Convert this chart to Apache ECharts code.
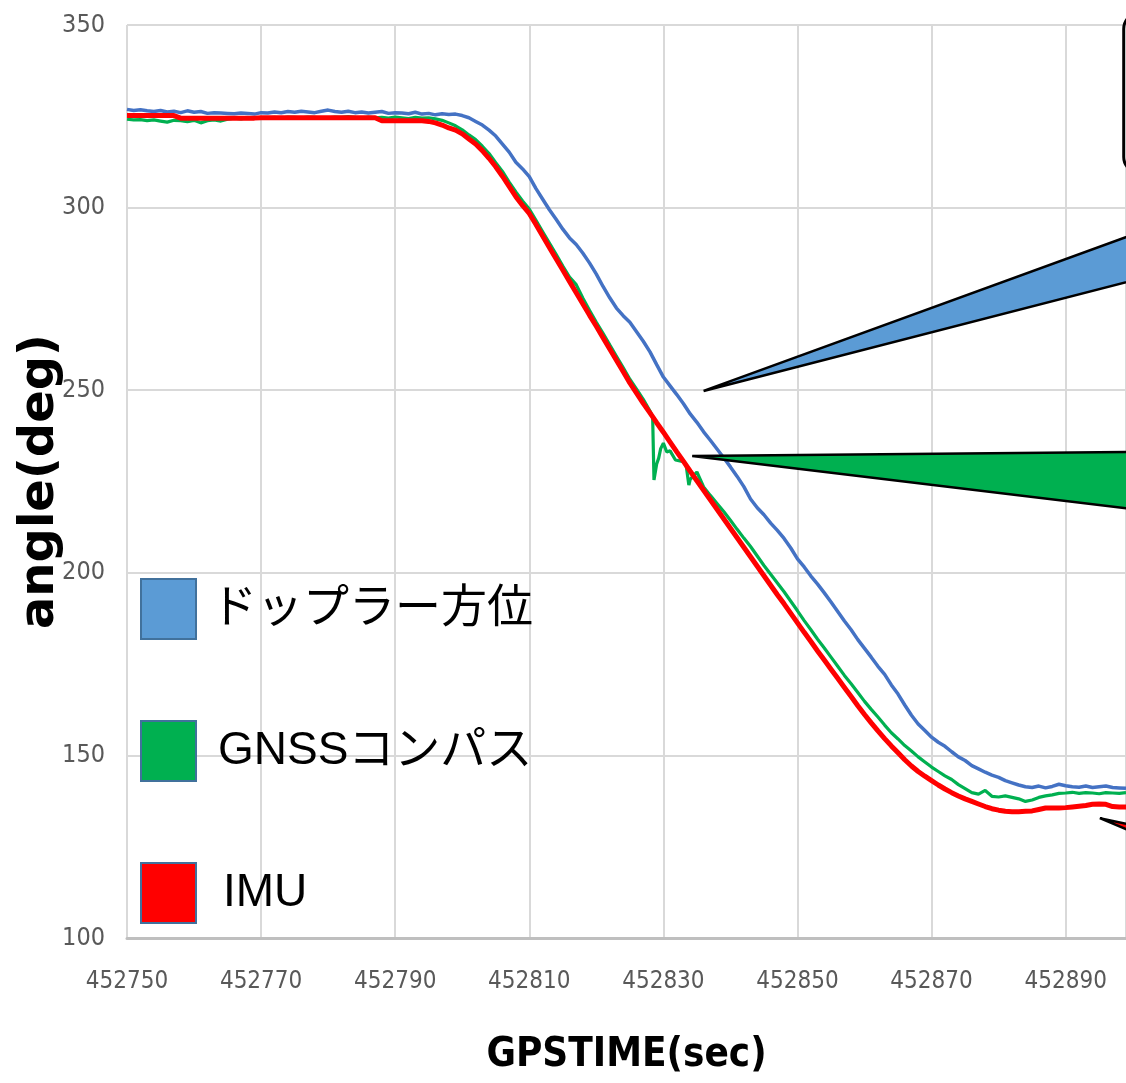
<!DOCTYPE html>
<html>
<head>
<meta charset="utf-8">
<script src="https://cdn.jsdelivr.net/npm/echarts@6/dist/echarts.min.js"></script>
<style>
html,body{margin:0;padding:0;background:#fff;}
#chart{width:1126px;height:1083px;}
</style>
</head>
<body>
<div id="chart"></div>
<script>
// ---- data ----
const T0 = 452750; // first sample time, one sample per second
const xTicks = [452750, 452770, 452790, 452810, 452830, 452850, 452870, 452890];
const yTicks = [100, 150, 200, 250, 300, 350];
const seriesNames = ['ドップラー方位', 'GNSSコンパス', 'IMU'];

const dopplerDeg = [
  326.9,326.6,326.8,326.5,326.3,326.6,326.2,326.4,326.0,326.5,
  326.1,326.3,325.8,326.0,325.9,325.8,325.7,325.9,325.8,325.6,
  326.0,325.9,326.2,326.0,326.3,326.1,326.4,326.2,326.0,326.4,
  326.7,326.3,326.1,326.4,326.0,326.2,325.9,326.1,326.3,325.8,
  326.0,325.9,325.7,326.1,325.6,325.8,325.4,325.7,325.5,325.6,
  325.2,324.6,323.6,322.6,321.2,319.6,317.4,315.2,312.4,310.6,
  308.5,305.2,302.3,299.4,296.8,294.1,291.7,289.9,287.5,284.8,
  281.8,278.4,275.3,272.5,270.4,268.6,266.0,263.4,260.5,257.0,
  253.6,251.2,248.8,246.3,243.5,241.2,238.6,236.3,233.9,231.5,
  229.0,226.4,223.6,220.2,217.8,215.9,213.6,211.6,209.4,206.8,
  203.8,201.6,199.1,196.9,194.5,192.0,189.4,186.8,184.4,181.7,
  179.3,176.9,174.4,172.2,169.3,166.8,163.8,161.0,158.6,156.8,
  155.0,153.6,152.5,151.0,149.6,148.6,147.2,146.3,145.4,144.6,
  144.0,143.1,142.5,141.9,141.4,141.2,141.6,141.1,141.5,142.1,
  141.7,141.4,141.3,141.6,141.2,141.4,141.6,141.2,141.1,141.0
];

const gnssDeg = [
  324.2,324.0,324.1,323.8,324.0,323.7,323.4,323.9,323.8,323.5,
  323.9,323.2,323.8,324.0,323.7,324.2,324.5,324.3,324.6,324.4,
  324.5,324.6,324.7,324.5,324.8,324.7,324.6,324.8,324.7,324.5,
  324.6,324.8,324.7,324.9,324.7,324.4,324.8,324.6,324.7,324.5,
  324.8,324.6,324.4,324.7,324.5,324.6,324.3,323.9,323.2,322.4,
  321.3,319.9,318.6,316.8,314.8,312.3,309.9,307.0,304.3,301.8,
  299.6,296.5,293.4,290.3,287.2,284.0,281.0,278.9,275.2,271.8,
  268.6,265.6,262.4,259.3,256.2,253.0,250.3,247.5,244.3,229.8,
  235.5,233.4,231.0,230.4,225.6,227.6,223.5,221.2,219.0,216.8,
  214.4,211.9,209.5,207.2,204.6,202.0,199.6,197.2,194.8,192.2,
  189.6,186.9,184.4,181.8,179.4,176.9,174.4,171.9,169.6,167.2,
  164.8,162.6,160.5,158.3,156.2,154.5,152.7,151.2,149.6,148.2,
  146.8,145.6,144.4,143.4,142.0,140.9,139.8,139.4,140.4,138.8,
  138.6,138.9,138.5,138.1,137.4,137.8,138.5,138.9,139.2,139.6,
  139.7,139.9,139.6,139.8,139.7,139.5,139.8,139.7,139.6,139.8
];
// extra GNSS samples inside the glitch around 452829-452836
const gnssSpikeTime = [452828.4, 452828.6, 452829.3, 452829.6, 452830.5, 452831.8, 452833.4, 452833.8, 452834.3, 452835.5];
const gnssSpikeDeg  = [242.7, 225.4, 231.4, 234.0, 233.1, 230.9, 229.4, 224.0, 226.2, 225.6];

const imuDeg = [
  325.2,325.2,325.2,325.2,325.2,325.2,325.2,325.2,324.5,324.5,
  324.5,324.5,324.5,324.5,324.5,324.5,324.5,324.5,324.5,324.5,
  324.6,324.6,324.6,324.6,324.6,324.6,324.6,324.6,324.6,324.6,
  324.6,324.6,324.6,324.6,324.6,324.6,324.6,324.6,323.8,323.8,
  323.8,323.8,323.8,323.8,323.8,323.6,323.2,322.6,321.8,321.2,
  320.2,318.8,317.4,315.6,313.5,311.2,308.6,305.8,303.0,300.6,
  298.4,295.4,292.2,289.1,286.0,282.9,279.8,276.7,273.6,270.5,
  267.5,264.4,261.3,258.2,255.1,252.0,249.2,246.4,243.8,241.1,
  238.5,235.8,233.1,230.5,227.8,225.2,222.6,220.0,217.4,214.8,
  212.2,209.6,207.0,204.4,201.8,199.2,196.6,194.0,191.5,188.9,
  186.3,183.7,181.2,178.6,176.1,173.6,171.1,168.6,166.1,163.6,
  161.2,158.9,156.7,154.6,152.6,150.7,148.8,147.1,145.6,144.3,
  143.1,141.9,140.8,139.8,138.9,138.1,137.4,136.7,136.0,135.4,
  135.0,134.7,134.6,134.6,134.7,134.8,135.2,135.6,135.6,135.6,
  135.7,135.9,136.1,136.3,136.6,136.7,136.6,136.0,135.9,135.9
];

// callout anchors in data coordinates (tip first)
const dopplerCallout = [[452836.0, 249.8], [452901.2, 293.4], [452901.2, 280.6]];
const gnssCallout    = [[452834.3, 232.0], [452901.2, 233.1], [452901.2, 217.2]];
const imuCallout     = [[452895.1, 132.8], [452901.2, 130.4], [452901.2, 128.1]];
const noteBox        = [[452898.66, 353.3], [452915.0, 309.5]];

// ---- build series ----
function perSecond(vals) { return vals.map((v, i) => [T0 + i, v]); }
const dopplerData = perSecond(dopplerDeg);
const imuData = perSecond(imuDeg);
const gnssData = perSecond(gnssDeg)
  .concat(gnssSpikeTime.map((t, i) => [t, gnssSpikeDeg[i]]))
  .sort((a, b) => a[0] - b[0]);

const narrow = "'Liberation Sans Narrow', 'DejaVu Sans Condensed', 'Liberation Sans', sans-serif";
const legendFont = "'Liberation Sans', 'Noto Sans CJK JP', sans-serif";

const chart = echarts.init(document.getElementById('chart'), null, {renderer: 'canvas'});
chart.setOption({
  animation: false,
  backgroundColor: '#ffffff',
  grid: {left: 127, top: 25, right: 0, bottom: 145, containLabel: false, outerBoundsMode: 'none'},
  xAxis: {
    type: 'value', min: xTicks[0], max: 452899, interval: xTicks[1] - xTicks[0],
    axisLine: {show: true, lineStyle: {color: '#bfbfbf', width: 3}},
    axisTick: {show: false},
    axisLabel: {color: '#595959', fontSize: 24, fontFamily: narrow, margin: 32, showMaxLabel: false,
      formatter: v => String(v)},
    splitLine: {show: true, lineStyle: {color: '#d9d9d9', width: 2}},
    name: 'GPSTIME(sec)', nameLocation: 'middle', nameGap: 98, nameMoveOverlap: false,
    nameTextStyle: {fontSize: 40, fontWeight: 'bold', color: '#000', fontFamily: narrow}
  },
  yAxis: {
    type: 'value', min: yTicks[0], max: yTicks[yTicks.length - 1], interval: yTicks[1] - yTicks[0],
    axisLine: {show: false},
    axisTick: {show: false},
    axisLabel: {color: '#595959', fontSize: 25, fontFamily: narrow, margin: 22},
    splitLine: {show: true, lineStyle: {color: '#d9d9d9', width: 2}},
    name: 'angle(deg)', nameLocation: 'middle', nameGap: 62, nameRotate: 90, nameMoveOverlap: false,
    nameTextStyle: {fontSize: 48, fontWeight: 'bold', color: '#000', fontFamily: "'DejaVu Sans', sans-serif"}
  },
  legend: {
    orient: 'vertical', left: 140, top: 578, padding: 0,
    itemWidth: 55, itemHeight: 60, itemGap: 80, icon: 'rect',
    textStyle: {fontSize: 46, color: '#000', fontFamily: legendFont},
    data: [
      {name: seriesNames[0], itemStyle: {color: '#5b9bd5', borderColor: '#41719c', borderWidth: 2},
        textStyle: {padding: [0, 0, 0, 10]}},
      {name: seriesNames[1], itemStyle: {color: '#00b050', borderColor: '#41719c', borderWidth: 2},
        textStyle: {padding: [0, 0, 0, 17]}},
      {name: seriesNames[2], itemStyle: {color: '#ff0000', borderColor: '#41719c', borderWidth: 2},
        textStyle: {padding: [0, 0, 0, 22]}}
    ]
  },
  series: [
    {name: seriesNames[0], type: 'line', data: dopplerData, showSymbol: false, symbol: 'none',
      lineStyle: {color: '#4472c4', width: 3.5}, itemStyle: {color: '#4472c4'}, z: 2},
    {name: seriesNames[1], type: 'line', data: gnssData, showSymbol: false, symbol: 'none',
      lineStyle: {color: '#00b050', width: 3.2}, itemStyle: {color: '#00b050'}, z: 3},
    {name: seriesNames[2], type: 'line', data: imuData, showSymbol: false, symbol: 'none',
      lineStyle: {color: '#ff0000', width: 5}, itemStyle: {color: '#ff0000'}, z: 4}
  ]
});

// ---- callouts (positioned through the axes) ----
function px(p) { return chart.convertToPixel({gridIndex: 0}, p); }
function wedge(pts, fill) {
  return {type: 'polygon', z: 100, silent: true,
    shape: {points: pts.map(px)},
    style: {fill: fill, stroke: '#000', lineWidth: 2.5, lineJoin: 'miter'}};
}
const b0 = px(noteBox[0]), b1 = px(noteBox[1]);
chart.setOption({
  graphic: [
    {type: 'rect', z: 100, silent: true,
      shape: {x: b0[0], y: b0[1], width: b1[0] - b0[0], height: b1[1] - b0[1], r: 16},
      style: {fill: '#fff', stroke: '#000', lineWidth: 3}},
    wedge(dopplerCallout, '#5b9bd5'),
    wedge(gnssCallout, '#00b050'),
    wedge(imuCallout, '#ff0000')
  ]
});
</script>
</body>
</html>
